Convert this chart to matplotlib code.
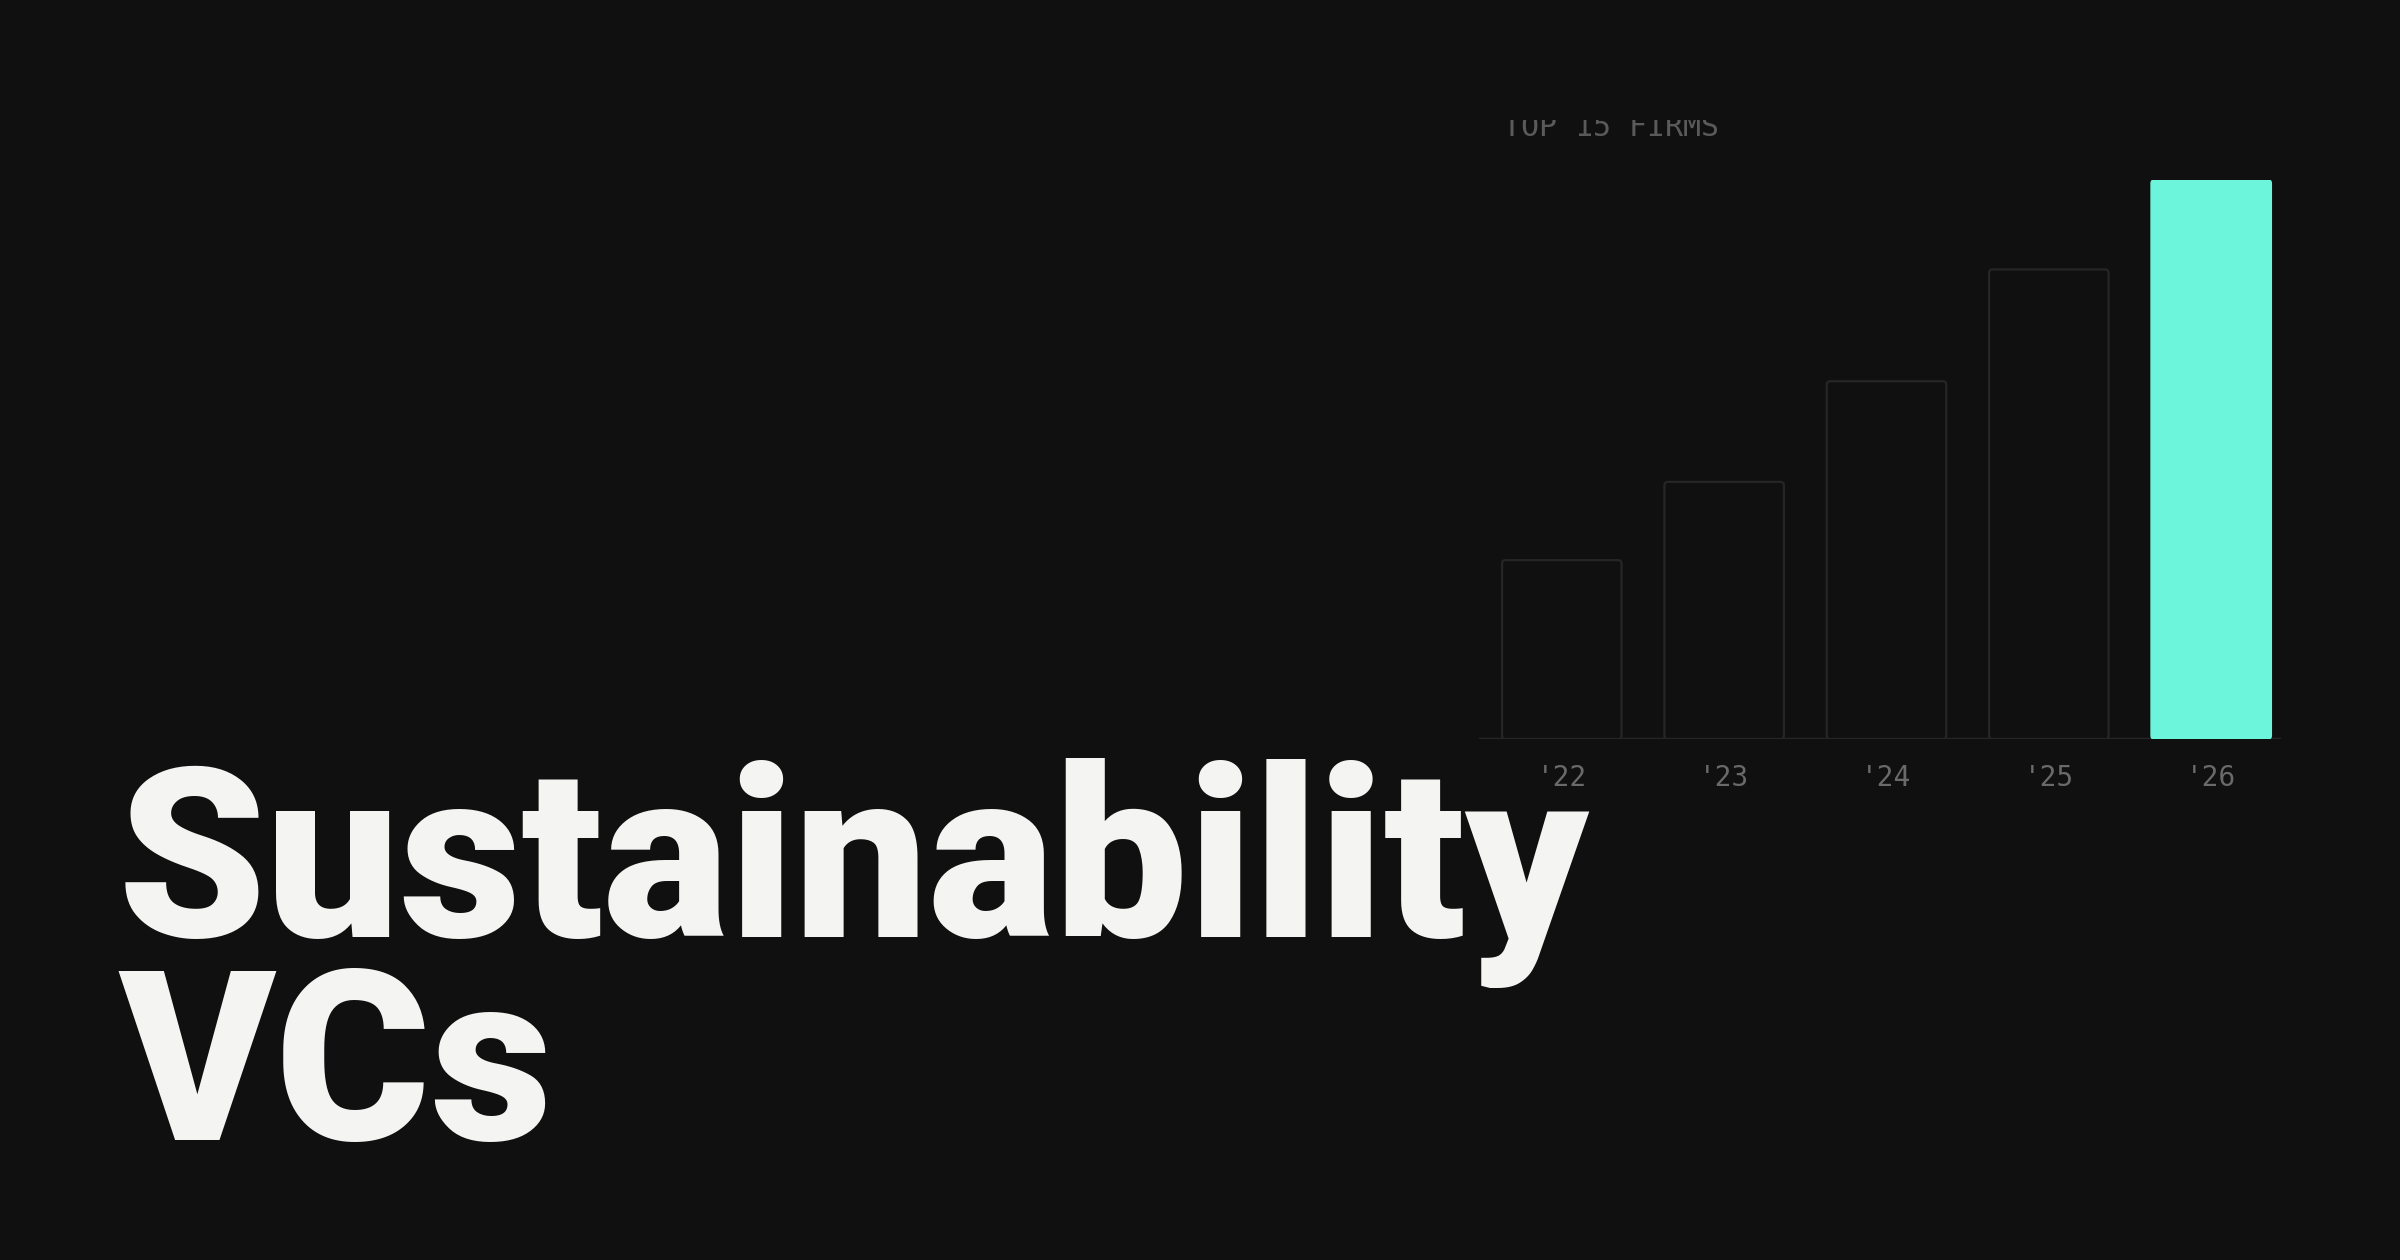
import matplotlib
matplotlib.use("Agg")
import matplotlib.pyplot as plt
from matplotlib.patches import Rectangle, FancyBboxPatch

# ---- data ----
years = ["'22", "'23", "'24", "'25", "'26"]
values = [32, 46, 64, 84, 100]
highlight = [False, False, False, False, True]
chart_label = "TOP 15 FIRMS"
headline = ["Sustainability", "VCs"]

BG = "#101010"
MINT = "#6cf5da"
EDGE = "#262626"
TXT = "#f4f4f2"
GREY = "#5a5a5a"

W, H = 2400, 1260
fig = plt.figure(figsize=(W / 100, H / 100), dpi=100)
fig.patch.set_facecolor(BG)

# bar chart axes
ax_rect = [1479 / W, 1 - 739 / H, (2281 - 1479) / W, (739 - 180) / H]
ax = fig.add_axes(ax_rect)
ax.set_facecolor("none")
x = list(range(len(years)))
colors = [MINT if h else BG for h in highlight]
edges = [MINT if h else EDGE for h in highlight]
xlim = (-0.51, 4.43)
ylim = (0, 100)
ax.set_xlim(*xlim)
ax.set_ylim(*ylim)
bars = ax.bar(x, values, width=0.736, color=colors, edgecolor=edges, linewidth=1.6, zorder=2)

# replace the bar rectangles by slightly rounded ones of identical geometry
px_per_x = ax_rect[2] * W / (xlim[1] - xlim[0])
px_per_y = ax_rect[3] * H / (ylim[1] - ylim[0])
radius_px = 3.5
for b in bars:
    fb = FancyBboxPatch((b.get_x(), b.get_y()), b.get_width(), b.get_height(),
                        boxstyle=f"round,pad=0,rounding_size={radius_px / px_per_x}",
                        mutation_aspect=px_per_x / px_per_y,
                        facecolor=b.get_facecolor(), edgecolor=b.get_edgecolor(),
                        linewidth=b.get_linewidth(), zorder=2)
    ax.add_patch(fb)
    b.set_visible(False)

ax.axhline(0, color=EDGE, lw=2.5, zorder=1)
for s in ax.spines.values():
    s.set_visible(False)
ax.set_yticks([])
ax.set_xticks(x, years)
ax.tick_params(axis="x", length=0, pad=18, labelsize=20, labelcolor="#6a6a6a")
for lab in ax.get_xticklabels():
    lab.set_fontfamily("DejaVu Sans Mono")

# chart label (clipped at the top as in the reference)
t = fig.text(1503 / W, 1 - 136 / H, chart_label, ha="left", va="baseline",
             fontsize=21.5, color=GREY, family="DejaVu Sans Mono")
clip = Rectangle((0, 0), 1, 1 - 120 / H, transform=fig.transFigure, facecolor="none")
t.set_clip_path(clip)

# headline
h1 = fig.text(118 / W, 1 - 937 / H, headline[0], ha="left", va="baseline",
              fontsize=180, fontweight=900, color=TXT, family="Roboto")
h2 = fig.text(118 / W, 1 - 1140 / H, headline[1], ha="left", va="baseline",
              fontsize=180, fontweight=900, color=TXT, family="Roboto")
r = fig.canvas.get_renderer()
wid = h1.get_window_extent(r).width
size = 180 * 1472 / wid
h1.set_fontsize(size)
h2.set_fontsize(size)

fig.savefig("out.png", dpi=100, facecolor=BG)
